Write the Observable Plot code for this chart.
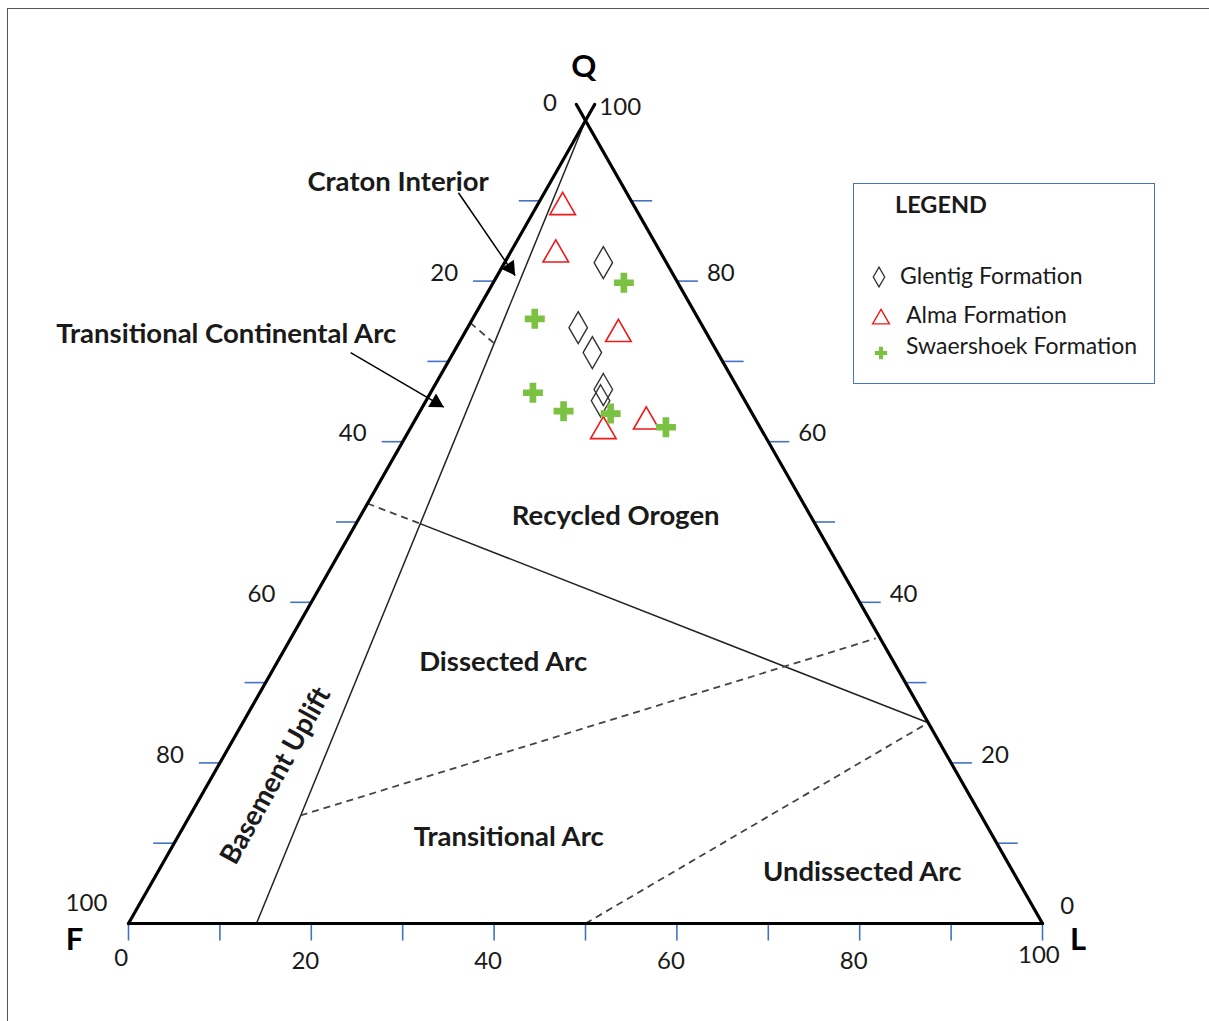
<!DOCTYPE html>
<html><head><meta charset="utf-8">
<script src="https://cdn.jsdelivr.net/npm/d3@7"></script>
<script src="https://cdn.jsdelivr.net/npm/@observablehq/plot@0.6"></script>
<style>
html,body{margin:0;padding:0;background:#fff;}
#wrap{position:relative;width:1209px;height:1021px;overflow:hidden;font-family:Lato,"Open Sans",sans-serif;}
#chart{position:absolute;left:0;top:0;}
#frame{position:absolute;left:7px;top:8px;width:1300px;height:1100px;border-left:1.5px solid #555;border-top:1.5px solid #555;pointer-events:none;}
#legend{position:absolute;left:853px;top:183px;width:300px;height:199px;border:1.5px solid #4472C4;background:#fff;color:#1a1a1a;}
#legend .title{position:absolute;left:41px;top:6px;font-weight:bold;font-size:23.5px;}
#legend .item{position:absolute;font-size:23px;white-space:nowrap;}
#legend svg{position:absolute;overflow:visible;}
</style>
</head><body>
<div id="wrap">
<div id="frame"></div>
<div id="chart"></div>
<div id="legend"></div>
</div>
<script>
// ---- data (ternary compositions, %) ----
const formations = ["Glentig Formation", "Alma Formation", "Swaershoek Formation"];
const glentigQ = [82.3, 74.2, 71.1, 66.5, 65.1];
const glentigF = [6.9, 13.7, 13.7, 14.8, 15.8];
const glentigL = [10.8, 12.1, 15.2, 18.7, 19.1];
const almaQ = [89.2, 83.3, 73.4, 62.5, 61.3];
const almaF = [7.9, 11.6, 9.7, 12.1, 17.4];
const almaL = [2.9, 5.1, 16.9, 25.4, 21.3];
const swaerQ = [79.8, 75.3, 66.1, 63.8, 63.5, 61.8];
const swaerF = [5.9, 17.9, 22.7, 20.5, 15.5, 10.3];
const swaerL = [14.3, 6.8, 11.2, 15.7, 21.0, 27.9];

// field boundaries as [Q, L] end points
const solidBoundaries = [
  [[100, 0], [0, 14]],
  [[49.8, 7.0], [25, 75]]
];
const dashedBoundaries = [
  [[74.8, 0], [72.3, 3.8]],
  [[52.3, 0], [49.8, 7.0]],
  [[13.45, 12.1], [35.5, 64.0]],
  [[0, 50], [25, 75]]
];
const tickValues = [10, 20, 30, 40, 50, 60, 70, 80, 90];
const labelValues = [20, 40, 60, 80];

// field names [text, Q, L]
const fieldLabels = [
  ["Recycled Orogen", 50.7, 27.95],
  ["Dissected Arc", 32.5, 24.75],
  ["Transitional Arc", 10.8, 36.2],
  ["Undissected Arc", 6.35, 77.1]
];
// annotation labels in plot units [text, x, y]
const noteLabels = [
  ["Craton Interior", 29.5, 92.3],
  ["Transitional Continental Arc", 10.7, 73.35]
];
const noteArrows = [
  [36.1, 91.0, 42.3, 80.7],
  [24.3, 71.1, 34.5, 64.3]
];
const vertexLabels = [["Q", 49.8, 106.7], ["F", -5.9, -2.1], ["L", 103.9, -2.1]];
const cornerLabels = [["0", 46.1, 102.1], ["100", 53.8, 101.7], ["100", -4.6, 2.5], ["0", 102.7, 2.2], ["0", -0.8, -4.3], ["100", 99.6, -4.0]];

// ---- geometry helpers ----
const xRange = [128, 1042], yRange = [923, 120];
const kx = (xRange[1] - xRange[0]) / 100, ky = (yRange[0] - yRange[1]) / 100;
const tx = (q, l) => l + q / 2;

function pts(Q, F, L, name) {
  return Q.map((q, i) => {
    const s = q + F[i] + L[i];
    const qq = 100 * q / s, ll = 100 * L[i] / s;
    return {formation: name, x: tx(qq, ll), y: qq};
  });
}
const glentig = pts(glentigQ, glentigF, glentigL, formations[0]);
const alma = pts(almaQ, almaF, almaL, formations[1]);
const swaer = pts(swaerQ, swaerF, swaerL, formations[2]);

const seg = (s) => ({x1: tx(s[0][0], s[0][1]), y1: s[0][0], x2: tx(s[1][0], s[1][1]), y2: s[1][0]});
const edges = [
  {x1: 0, y1: 0, x2: 100, y2: 0},
  {x1: 0, y1: 0, x2: 51, y2: 102},
  {x1: 100, y1: 0, x2: 49, y2: 102}
];
const tlx = 21 / kx, tly = 17 / ky;
const leftTicks = tickValues.map(q => ({x1: q / 2, y1: q, x2: q / 2 - tlx, y2: q}));
const rightTicks = tickValues.map(q => ({x1: 100 - q / 2, y1: q, x2: 100 - q / 2 + tlx, y2: q}));
const bottomTicks = [0, ...tickValues, 100].map(l => ({x1: l, y1: 0, x2: l, y2: -tly}));

const headR = 7.5;
const heads = noteArrows.map(([x1, y1, x2, y2]) => {
  const vx = (x2 - x1) * kx, vy = -(y2 - y1) * ky;
  const len = Math.hypot(vx, vy);
  const s = 1.2095 * headR;
  return {x: x2 - (vx / len) * s / kx, y: y2 + (vy / len) * s / ky, rotate: Math.atan2(vx, -vy) * 180 / Math.PI};
});

const fontFam = "Lato, 'Open Sans', sans-serif";
const txt = "#1a1a1a";

const chart = Plot.plot({
  width: 1209, height: 1021,
  marginTop: 0, marginRight: 0, marginBottom: 0, marginLeft: 0,
  x: {domain: [0, 100], range: xRange, axis: null},
  y: {domain: [0, 100], range: yRange, axis: null},
  style: {fontFamily: fontFam, background: "transparent", overflow: "visible"},
  marks: [
    // ticks
    Plot.link([...leftTicks, ...rightTicks, ...bottomTicks], {x1: "x1", y1: "y1", x2: "x2", y2: "y2", stroke: "#4472C4", strokeWidth: 1.6}),
    // boundaries
    Plot.link(solidBoundaries.map(seg), {x1: "x1", y1: "y1", x2: "x2", y2: "y2", stroke: "#222", strokeWidth: 1.5}),
    Plot.link(dashedBoundaries.map(seg), {x1: "x1", y1: "y1", x2: "x2", y2: "y2", stroke: "#444", strokeWidth: 1.8, strokeDasharray: "7,5"}),
    // triangle edges
    Plot.link(edges, {x1: "x1", y1: "y1", x2: "x2", y2: "y2", stroke: "#000", strokeWidth: 3.2, strokeLinecap: "round"}),
    // annotation arrows
    Plot.link(noteArrows, {x1: d => d[0], y1: d => d[1], x2: d => d[2], y2: d => d[3], stroke: "#000", strokeWidth: 1.5}),
    Plot.dot(heads, {x: "x", y: "y", rotate: "rotate", symbol: "triangle2", r: headR, fill: "#000"}),
    // tick labels
    Plot.text(labelValues, {x: q => q / 2, y: q => q, text: q => String(100 - q), dx: -36, dy: -8, textAnchor: "end", fontSize: 24, fill: txt}),
    Plot.text(labelValues, {x: q => 100 - q / 2, y: q => q, text: q => String(q), dx: 30, dy: -8, textAnchor: "start", fontSize: 24, fill: txt}),
    Plot.text(labelValues, {x: l => l, y: 0, text: l => String(l), dx: -6, dy: 38, fontSize: 24, fill: txt}),
    Plot.text(cornerLabels, {x: d => d[1], y: d => d[2], text: d => d[0], fontSize: 24, fill: txt}),
    // vertex labels
    Plot.text(vertexLabels, {x: d => d[1], y: d => d[2], text: d => d[0], fontSize: 31, fontWeight: "bold", fill: "#000"}),
    // field labels
    Plot.text(fieldLabels, {x: d => tx(d[1], d[2]), y: d => d[1], text: d => d[0], fontSize: 27.5, fontWeight: "bold", fill: txt}),
    Plot.text(["Basement Uplift"], {x: tx(18.4, 6.9), y: 18.4, text: d => d, rotate: -61, fontSize: 27.5, fontWeight: "bold", fill: txt}),
    Plot.text(noteLabels, {x: d => d[1], y: d => d[2], text: d => d[0], fontSize: 27.5, fontWeight: "bold", fill: txt}),
    // data
    Plot.dot(glentig, {x: "x", y: "y", symbol: "diamond", r: 9.7, stroke: "#333", strokeWidth: 1.4, fill: "none"}),
    Plot.dot(alma, {x: "x", y: "y", symbol: "triangle2", r: 12.2, stroke: "#f01818", strokeWidth: 1.6, fill: "none"}),
    Plot.dot(swaer, {x: "x", y: "y", symbol: "cross", r: 8.4, fill: "#7cc242", stroke: "none"})
  ]
});
document.getElementById("chart").appendChild(chart);

// ---- legend ----
const legend = document.getElementById("legend");
const sym = (name, r, attrs) => {
  const p = d3.symbol(d3["symbol" + name], Math.PI * r * r)();
  return `<path d="${p}" ${attrs}/>`;
};
const legendItems = [
  {name: formations[0], cx: 25, cy: 93, tx: 46, ty: 77, svg: sym("Diamond", 6, 'fill="none" stroke="#333" stroke-width="1.3"')},
  {name: formations[1], cx: 27, cy: 135, tx: 52, ty: 116, svg: sym("Triangle2", 8, 'fill="none" stroke="#f01818" stroke-width="1.4"')},
  {name: formations[2], cx: 27, cy: 169, tx: 52, ty: 147, svg: sym("Cross", 5.2, 'fill="#7cc242"')}
];
legend.innerHTML = `<div class="title">LEGEND</div>` + legendItems.map(it =>
  `<svg width="1" height="1" style="left:${it.cx}px;top:${it.cy}px"><g>${it.svg}</g></svg><div class="item" style="left:${it.tx}px;top:${it.ty}px">${it.name}</div>`
).join("");
</script>
</body></html>
